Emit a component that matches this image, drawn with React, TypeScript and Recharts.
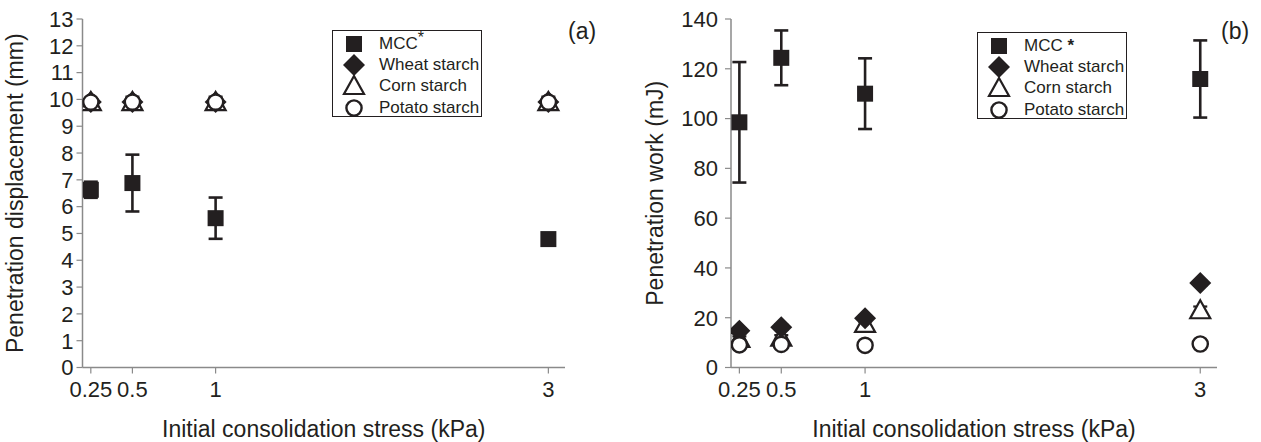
import React from 'react';
import { ScatterChart, Scatter, XAxis, YAxis, ErrorBar, Legend, Label } from 'recharts';

// ---------- data ----------
const stress = [0.25, 0.5, 1, 3];
const xTicks = [0.25, 0.5, 1, 3];

// (a) Penetration displacement (mm)
const dispTicks = [0, 1, 2, 3, 4, 5, 6, 7, 8, 9, 10, 11, 12, 13];
const dispMcc = [6.63, 6.88, 5.57, 4.79];
const dispMccErr = [0.3, 1.06, 0.77, 0.2];
const dispWheat = [9.9, 9.9, 9.9, 9.9];
const dispWheatErr = [0.1, 0.1, 0.1, 0.1];
const dispCorn = [9.9, 9.9, 9.9, 9.9];
const dispCornErr = [0.1, 0.15, 0.15, 0.15];
const dispPotato = [9.9, 9.9, 9.9, 9.9];
const dispPotatoErr = [0.1, 0.2, 0.2, 0.2];

// (b) Penetration work (mJ)
const workTicks = [0, 20, 40, 60, 80, 100, 120, 140];
const workMcc = [98.5, 124.4, 110, 115.9];
const workMccErr = [24.2, 11, 14.2, 15.5];
const workWheat = [14.8, 16.2, 19.8, 33.9];
const workWheatErr = [1, 1, 1, 1];
const workCorn = [11.5, 12, 17.5, 23];
const workCornErr = [1, 1, 1, 1.5];
const workPotato = [9.1, 9.3, 8.9, 9.45];
const workPotatoErr = [1.5, 1.5, 1.2, 1.5];

const rows = (ys: number[], es: number[]) => stress.map((x, i) => ({ x, y: ys[i], e: es[i] }));

// ---------- styles ----------
const INK = '#231f20';
const AXIS = '#8a8a8a';
const FONT = '"Liberation Sans", Arial, Helvetica, sans-serif';

const SquareShape = (p: any) => <rect x={p.cx - 8} y={p.cy - 8} width={16} height={16} fill={INK} />;
const DiamondShape = (p: any) => (
  <polygon points={`${p.cx},${p.cy - 11} ${p.cx + 11},${p.cy} ${p.cx},${p.cy + 11} ${p.cx - 11},${p.cy}`} fill={INK} />
);
const TriangleShape = (p: any) => (
  <polygon points={`${p.cx},${p.cy - 10} ${p.cx + 10},${p.cy + 8} ${p.cx - 10},${p.cy + 8}`} fill="#fff" stroke={INK} strokeWidth={2.2} strokeLinejoin="miter" />
);
const CircleShape = (p: any) => <circle cx={p.cx} cy={p.cy} r={7.6} fill="#fff" stroke={INK} strokeWidth={2.4} />;
const NoShape = () => <g />;

const legendItems = [
  { key: 'mcc', Shape: SquareShape },
  { key: 'wheat', Shape: DiamondShape, label: 'Wheat starch' },
  { key: 'corn', Shape: TriangleShape, label: 'Corn starch' },
  { key: 'potato', Shape: CircleShape, label: 'Potato starch' },
];

const makeLegend = (variant: 'a' | 'b') => () => (
  <div
    style={{
      width: 150,
      height: 87,
      border: `1.2px solid ${INK}`,
      boxSizing: 'border-box',
      background: '#fff',
      fontFamily: FONT,
      fontSize: 17,
      color: INK,
      paddingTop: 2,
    }}
  >
    {legendItems.map(({ key, Shape, label }) => (
      <div key={key} style={{ height: 21.3, display: 'flex', alignItems: 'center' }}>
        <svg width={44} height={22} style={{ flex: 'none' }}>
          <Shape cx={21} cy={11} />
        </svg>
        <span style={{ marginLeft: 2, whiteSpace: 'nowrap' }}>
          {label ??
            (variant === 'a' ? (
              <>
                MCC<span style={{ fontSize: 16, position: 'relative', top: -6 }}>*</span>
              </>
            ) : (
              <>MCC <b>*</b></>
            ))}
        </span>
      </div>
    ))}
  </div>
);

const xTitle = (props: any) => {
  const vb = props.viewBox;
  return (
    <text x={vb.x + vb.width / 2} y={vb.y + 61} textAnchor="middle" dominantBaseline="central" fontSize={23} fill={INK} fontFamily={FONT}>
      Initial consolidation stress (kPa)
    </text>
  );
};

const yTitle = (text: string, x: number) => (props: any) => {
  const vb = props.viewBox;
  const y = vb.y + vb.height / 2;
  return (
    <text x={x} y={y} transform={`rotate(-90 ${x} ${y})`} textAnchor="middle" dominantBaseline="central" fontSize={23} fill={INK} fontFamily={FONT}>
      {text}
    </text>
  );
};

const tickStyle = { fontSize: 22, fill: INK, fontFamily: FONT };

type PanelProps = {
  width: number;
  yWidth: number;
  marginRight: number;
  yTicks: number[];
  yMax: number;
  yLabel: string;
  yLabelX: number;
  yTickMargin: number;
  mcc: any[];
  wheat: any[];
  corn: any[];
  potato: any[];
  variant: 'a' | 'b';
  legendLeft: number;
  legendTop: number;
};

const Panel = (p: PanelProps) => (
  <ScatterChart width={p.width} height={442} margin={{ top: 19, right: p.marginRight, bottom: 0, left: 0 }}>
    <XAxis
      type="number"
      dataKey="x"
      domain={[0.2, 3.1]}
      ticks={xTicks}
      interval={0}
      allowDataOverflow
      height={74.5}
      tick={tickStyle}
      tickSize={6}
      tickMargin={8}
      axisLine={{ stroke: AXIS, strokeWidth: 1.5 }}
      tickLine={{ stroke: AXIS, strokeWidth: 1.2 }}
    >
      <Label content={xTitle} />
    </XAxis>
    <YAxis
      type="number"
      dataKey="y"
      domain={[0, p.yMax]}
      ticks={p.yTicks}
      interval={0}
      width={p.yWidth}
      tick={tickStyle}
      tickSize={6}
      tickMargin={p.yTickMargin}
      axisLine={{ stroke: AXIS, strokeWidth: 1.5 }}
      tickLine={{ stroke: AXIS, strokeWidth: 1.2 }}
    >
      <Label content={yTitle(p.yLabel, p.yLabelX)} />
    </YAxis>
    <Legend
      layout="vertical"
      align="center"
      verticalAlign="middle"
      content={makeLegend(p.variant)}
      wrapperStyle={{ position: 'absolute', left: p.legendLeft, top: p.legendTop, width: 150, height: 87 }}
    />
    <Scatter name="Corn starch" data={p.corn} shape={TriangleShape} isAnimationActive={false} />
    <Scatter name="Wheat starch" data={p.wheat} shape={DiamondShape} isAnimationActive={false}>
      <ErrorBar dataKey="e" direction="y" width={7} strokeWidth={2.4} stroke={INK} />
    </Scatter>
    <Scatter name="Potato starch" data={p.potato} shape={CircleShape} isAnimationActive={false} />
    <Scatter name="corn-err" data={p.corn} shape={NoShape} legendType="none" isAnimationActive={false}>
      <ErrorBar dataKey="e" direction="y" width={7} strokeWidth={2.2} stroke={INK} />
    </Scatter>
    <Scatter name="potato-err" data={p.potato} shape={NoShape} legendType="none" isAnimationActive={false}>
      <ErrorBar dataKey="e" direction="y" width={7} strokeWidth={2.4} stroke={INK} />
    </Scatter>
    <Scatter name="MCC" data={p.mcc} shape={SquareShape} isAnimationActive={false}>
      <ErrorBar dataKey="e" direction="y" width={7} strokeWidth={2.6} stroke={INK} />
    </Scatter>
  </ScatterChart>
);

export default function App() {
  return (
    <div style={{ position: 'absolute', left: 0, top: 0, width: 1261, height: 442, background: '#fff', overflow: 'hidden' }}>
      <div style={{ position: 'absolute', left: 0, top: 0 }}>
        <Panel
          width={620}
          yWidth={82.5}
          marginRight={55}
          yTicks={dispTicks}
          yMax={13}
          yLabel="Penetration displacement (mm)"
          yLabelX={15}
          yTickMargin={3}
          mcc={rows(dispMcc, dispMccErr)}
          wheat={rows(dispWheat, dispWheatErr)}
          corn={rows(dispCorn, dispCornErr)}
          potato={rows(dispPotato, dispPotatoErr)}
          variant="a"
          legendLeft={332}
          legendTop={30}
        />
      </div>
      <div style={{ position: 'absolute', left: 620, top: 0 }}>
        <Panel
          width={641}
          yWidth={111}
          marginRight={44}
          yTicks={workTicks}
          yMax={140}
          yLabel="Penetration work (mJ)"
          yLabelX={35}
          yTickMargin={7}
          mcc={rows(workMcc, workMccErr)}
          wheat={rows(workWheat, workWheatErr)}
          corn={rows(workCorn, workCornErr)}
          potato={rows(workPotato, workPotatoErr)}
          variant="b"
          legendLeft={357}
          legendTop={32}
        />
      </div>
      <div style={{ position: 'absolute', left: 568, top: 17, fontFamily: FONT, fontSize: 23, color: INK, lineHeight: '28px' }}>(a)</div>
      <div style={{ position: 'absolute', left: 1221, top: 17, fontFamily: FONT, fontSize: 23, color: INK, lineHeight: '28px' }}>(b)</div>
    </div>
  );
}
